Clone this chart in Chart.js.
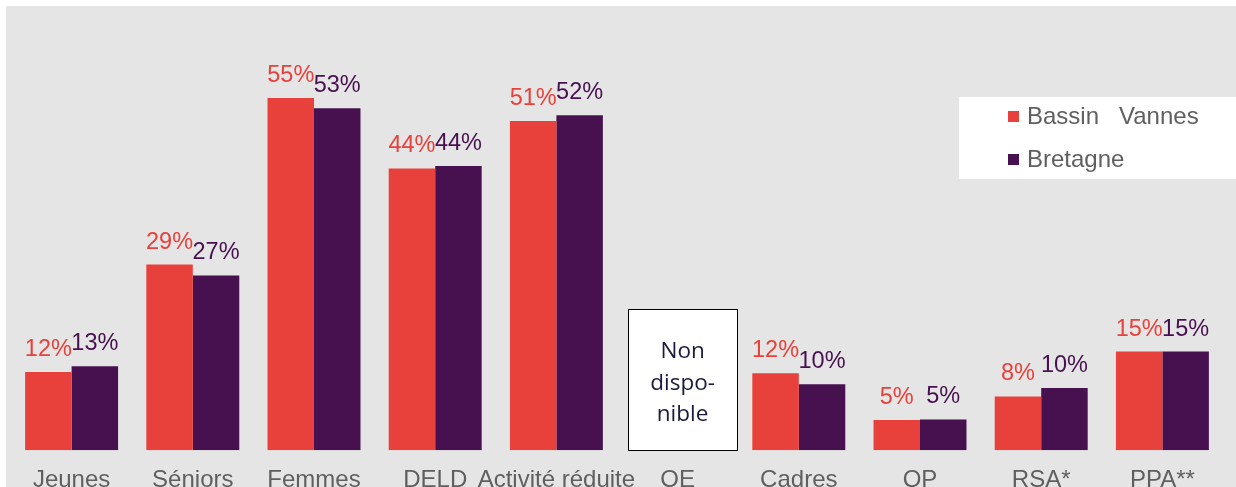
<!DOCTYPE html>
<html>
<head>
<meta charset="utf-8">
<script src="https://cdn.jsdelivr.net/npm/chart.js@4/dist/chart.umd.min.js"></script>
<style>
  html, body { margin: 0; padding: 0; background: #fff; overflow: hidden; }
  #wrap { width: 1236px; height: 487px; overflow: hidden; position: relative; }
  #box { width: 1236px; height: 511px; }
</style>
</head>
<body>
<div id="wrap"><div id="box"><canvas id="myChart"></canvas></div></div>
<script>
// categories and values (%)
var categories = ['Jeunes', 'Séniors', 'Femmes', 'DELD', 'Activité réduite', 'OE', 'Cadres', 'QP', 'RSA*', 'PPA**'];
var bassinVannes = [12.2, 29, 55, 44, 51.4, null, 12, 4.7, 8.4, 15.4];
var bretagne = [13.1, 27.3, 53.4, 44.4, 52.3, null, 10.3, 4.8, 9.7, 15.4];
var seriesNames = ['Bassin   Vannes', 'Bretagne'];
var seriesColors = ['#e8413b', '#47104f'];
var naIndex = 5;      // OE: not available
var naHeight = 22;    // height of the "Non disponible" box, in % units

var fontFam = '"Liberation Sans", Arial, sans-serif';

// gray panel behind everything
var panelPlugin = {
    id: 'panel',
    beforeDraw: function (chart) {
        var c = chart.ctx;
        c.save();
        c.fillStyle = '#e5e5e5';
        c.fillRect(6, 6, chart.width - 6, chart.height - 6);
        c.restore();
    }
};

// value labels, "Non disponible" box, legend
var extrasPlugin = {
    id: 'extras',
    afterDatasetsDraw: function (chart) {
        var c = chart.ctx;
        c.save();
        c.font = '23.5px ' + fontFam;
        c.textAlign = 'center';
        c.textBaseline = 'alphabetic';
        chart.data.datasets.forEach(function (ds, di) {
            var meta = chart.getDatasetMeta(di);
            c.fillStyle = ds.backgroundColor;
            meta.data.forEach(function (el, i) {
                var v = ds.data[i];
                if (v === null) return;
                c.fillText(Math.round(v) + '%', el.x, el.y - 16);
            });
        });

        // Non disponible box
        var xs = chart.scales.x, ys = chart.scales.y;
        var xc = xs.getPixelForValue(naIndex) + 5;
        var top = Math.round(ys.getPixelForValue(naHeight)) + 0.5;
        var bot = Math.round(ys.getPixelForValue(0)) + 0.5;
        var left = Math.round(xc - 55) + 0.5;
        c.fillStyle = '#ffffff';
        c.fillRect(left, top, 109, bot - top);
        c.strokeStyle = '#000000';
        c.lineWidth = 1;
        c.strokeRect(left, top, 109, bot - top);
        c.fillStyle = '#1c1a3c';
        c.font = '22.5px "Open Sans", "Noto Sans", sans-serif';
        c.fillText('Non', xc, top + 48);
        c.fillText('dispo-', xc, top + 80);
        c.fillText('nible', xc, top + 111);

        // legend
        c.fillStyle = '#ffffff';
        c.fillRect(959, 97, chart.width - 959, 82);
        c.textAlign = 'left';
        c.textBaseline = 'middle';
        c.font = '24px ' + fontFam;
        chart.data.datasets.forEach(function (ds, di) {
            var yy = 117 + di * 43;
            c.fillStyle = ds.backgroundColor;
            c.fillRect(1008, yy - 6, 11, 11);
            c.fillStyle = '#5f5f5f';
            c.fillText(ds.label, 1027, yy);
        });
        c.restore();
    }
};

var ctx = document.getElementById('myChart').getContext('2d');
var myChart = new Chart(ctx, {
    type: 'bar',
    data: {
        labels: categories,
        datasets: [{
            label: seriesNames[0],
            data: bassinVannes,
            backgroundColor: seriesColors[0],
            borderWidth: 0
        }, {
            label: seriesNames[1],
            data: bretagne,
            backgroundColor: seriesColors[1],
            borderWidth: 0
        }]
    },
    options: {
        responsive: true,
        maintainAspectRatio: false,
        animation: false,
        categoryPercentage: 0.767,
        barPercentage: 1.0,
        layout: {
            padding: { left: 11, right: 13, top: 66, bottom: 0 }
        },
        plugins: {
            legend: { display: false },
            tooltip: { enabled: false }
        },
        scales: {
            x: {
                grid: { display: false, drawTicks: false },
                border: { display: false },
                ticks: {
                    color: '#5f5f5f',
                    font: { family: fontFam, size: 24 },
                    padding: 16,
                    maxRotation: 0,
                    autoSkip: false
                }
            },
            y: {
                display: false,
                min: 0,
                max: 60
            }
        }
    },
    plugins: [panelPlugin, extrasPlugin]
});
</script>
</body>
</html>
